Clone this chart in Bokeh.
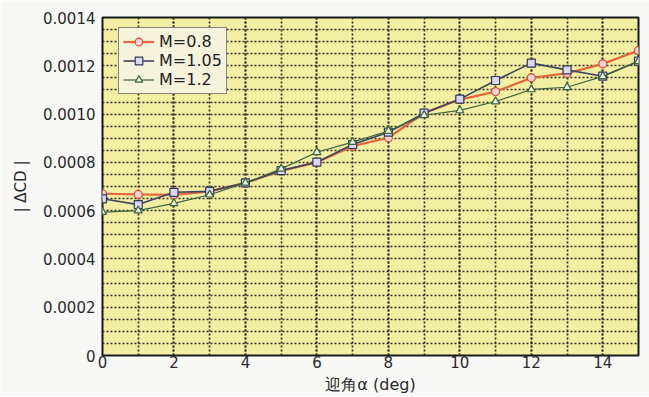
from bokeh.plotting import figure
from bokeh.models import FixedTicker, Range1d, Legend, LegendItem
from bokeh.embed import file_html
from bokeh.resources import INLINE

# ---- data ----
alpha = [0, 1, 2, 3, 4, 5, 6, 7, 8, 9, 10, 11, 12, 13, 14, 15]
m08 = [0.000670, 0.000667, 0.000665, 0.000680, 0.000715, 0.000765, 0.000800, 0.000867,
       0.000902, 0.001004, 0.001060, 0.001093, 0.001150, 0.001169, 0.001208, 0.001263]
m105 = [0.000649, 0.000625, 0.000676, 0.000680, 0.000715, 0.000766, 0.000801, 0.000874,
        0.000925, 0.001004, 0.001062, 0.001139, 0.001211, 0.001183, 0.001157, 0.001219]
m12 = [0.000594, 0.000600, 0.000630, 0.000666, 0.000715, 0.000773, 0.000842, 0.000884,
       0.000930, 0.000995, 0.001015, 0.001052, 0.001102, 0.001111, 0.001156, 0.001219]
series_names = ["M=0.8", "M=1.05", "M=1.2"]
x_ticks = [0, 2, 4, 6, 8, 10, 12, 14]
y_ticks = [0, 0.0002, 0.0004, 0.0006, 0.0008, 0.0010, 0.0012, 0.0014]
y_tick_labels = ["0", "0.0002", "0.0004", "0.0006", "0.0008", "0.0010", "0.0012", "0.0014"]
x_grid = list(range(0, 16))
y_grid_minor = [0.00005 * i for i in range(1, 28) if i % 4 != 0]

FONT = "DejaVu Sans"

p = figure(frame_width=536, frame_height=338, output_backend="svg", toolbar_location=None,
           x_range=Range1d(0, 15), y_range=Range1d(0, 0.0014),
           min_border_left=102, min_border_right=11, min_border_top=17, min_border_bottom=40)

p.background_fill_color = "#f3efa2"
p.border_fill_color = "#f8f8f6"
p.outline_line_color = "#1a1a1a"
p.outline_line_width = 2

# axes
p.xaxis.ticker = FixedTicker(ticks=x_ticks, minor_ticks=x_grid)
p.yaxis.ticker = FixedTicker(ticks=y_ticks, minor_ticks=y_grid_minor)
p.yaxis.major_label_overrides = {t: l for t, l in zip(y_ticks, y_tick_labels)}
for ax in (p.xaxis[0], p.yaxis[0]):
    ax.axis_line_color = None
    ax.major_tick_line_color = None
    ax.minor_tick_line_color = None
    ax.major_tick_out = 0
    ax.major_tick_in = 0
    ax.minor_tick_out = 0
    ax.minor_tick_in = 0
    ax.major_label_text_font = FONT
    ax.major_label_text_font_size = "15px"
    ax.major_label_text_color = "#2a2a2a"
    ax.axis_label_text_font_style = "normal"
    ax.axis_label_text_color = "#2a2a2a"
    ax.axis_label_text_font = FONT
p.xaxis.major_label_standoff = 0
p.xaxis.axis_label_standoff = 4
p.yaxis.major_label_standoff = 7
p.yaxis.axis_label_standoff = 10
p.xaxis.axis_label = "迎角α (deg)"
p.xaxis.axis_label_text_font_size = "16px"
p.yaxis.axis_label = "| ΔCD |"
p.yaxis.axis_label_text_font_size = "15px"

# grid
for g in (p.xgrid[0], p.ygrid[0]):
    g.grid_line_color = "#2e2e22"
    g.grid_line_dash = "2 2"
    g.grid_line_width = 1.7
    g.minor_grid_line_color = "#2e2e22"
    g.minor_grid_line_dash = "2 2"
    g.minor_grid_line_width = 1.7

# series
r1l = p.line(alpha, m08, line_color="#e4663a", line_width=2.2)
r1m = p.scatter(alpha, m08, marker="circle", size=8, fill_color="#f6d4d4",
                line_color="#d84c3c", line_width=1.2)
r2l = p.line(alpha, m105, line_color="#3b4660", line_width=1.6)
r2m = p.scatter(alpha, m105, marker="square", size=8, fill_color="#dcd6f2",
                line_color="#2e3a5e", line_width=1.2)
r3l = p.line(alpha, m12, line_color="#3d6440", line_width=1.2)
r3m = p.scatter(alpha, m12, marker="triangle", size=8, fill_color="#eef2d8",
                line_color="#3d6440", line_width=1.2)

legend = Legend(items=[
    LegendItem(label=series_names[0], renderers=[r1l, r1m]),
    LegendItem(label=series_names[1], renderers=[r2l, r2m]),
    LegendItem(label=series_names[2], renderers=[r3l, r3m]),
], location=(16, 261))
legend.margin = 0
legend.padding = 4
legend.spacing = 0
legend.glyph_width = 31
legend.glyph_height = 19
legend.label_height = 19
legend.label_standoff = 5
legend.label_text_font = FONT
legend.label_text_font_size = "16px"
legend.label_text_color = "#222222"
legend.background_fill_color = "#f5f3dc"
legend.background_fill_alpha = 1.0
legend.border_line_color = "#1a1a1a"
legend.border_line_width = 1.6
p.add_layout(legend, "center")

open("out.html", "w").write(file_html(p, INLINE))
